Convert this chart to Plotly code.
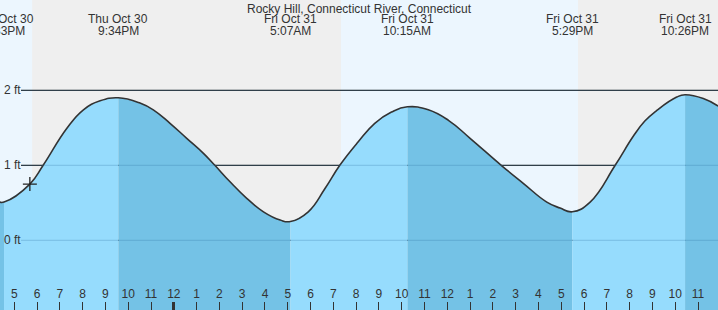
import plotly.graph_objects as go
from datetime import datetime, timedelta

# ---------------- data ----------------
title_text = "Rocky Hill, Connecticut River, Connecticut"

event_times = ["2025-10-30 16:33", "2025-10-30 21:34", "2025-10-31 05:07",
               "2025-10-31 10:15", "2025-10-31 17:29", "2025-10-31 22:26"]
event_days = ["Thu Oct 30", "Thu Oct 30", "Fri Oct 31",
              "Fri Oct 31", "Fri Oct 31", "Fri Oct 31"]
event_clock = ["4:33PM", "9:34PM", "5:07AM", "10:15AM", "5:29PM", "10:26PM"]

curve_times = [
    "2025-10-30 16:22", "2025-10-30 16:33", "2025-10-30 17:41", "2025-10-30 18:16",
    "2025-10-30 19:18", "2025-10-30 20:02", "2025-10-30 20:46", "2025-10-30 21:34",
    "2025-10-30 22:31", "2025-10-30 23:06", "2025-10-30 23:50", "2025-10-31 00:34",
    "2025-10-31 01:18", "2025-10-31 01:48", "2025-10-31 02:28", "2025-10-31 03:12",
    "2025-10-31 03:56", "2025-10-31 04:40", "2025-10-31 05:07", "2025-10-31 05:54",
    "2025-10-31 06:38", "2025-10-31 07:17", "2025-10-31 08:05", "2025-10-31 08:49",
    "2025-10-31 09:33", "2025-10-31 10:15", "2025-10-31 11:10", "2025-10-31 12:03",
    "2025-10-31 13:00", "2025-10-31 14:22", "2025-10-31 15:20", "2025-10-31 16:22",
    "2025-10-31 16:57", "2025-10-31 17:29", "2025-10-31 18:16", "2025-10-31 19:22",
    "2025-10-31 20:10", "2025-10-31 20:40", "2025-10-31 21:11", "2025-10-31 22:04",
    "2025-10-31 22:26", "2025-10-31 23:14", "2025-10-31 23:53",
]
curve_heights = [
    0.51, 0.51, 0.75, 1.00,
    1.49, 1.74, 1.86, 1.90,
    1.83, 1.74, 1.56, 1.36,
    1.16, 1.00, 0.78, 0.56,
    0.38, 0.27, 0.25, 0.38,
    0.69, 1.00, 1.31, 1.56,
    1.71, 1.78, 1.74, 1.60,
    1.36, 1.00, 0.76, 0.51,
    0.43, 0.38, 0.51, 1.00,
    1.39, 1.59, 1.73, 1.91,
    1.94, 1.89, 1.79,
]

now_time = ["2025-10-30 17:41"]
now_height = [0.75]

daylight_start = ["2025-10-30 16:22:23", "2025-10-31 07:20"]
daylight_end = ["2025-10-30 17:47", "2025-10-31 17:44"]

y_levels = [2, 1, 0]
y_level_labels = ["2 ft", "1 ft", "0 ft"]

hour_tick_times = [datetime(2025, 10, 30, 17) + timedelta(hours=i) for i in range(32)]
hour_tick_text = [str((t.hour % 12) or 12) for t in hour_tick_times]
midnight_ticks = ["2025-10-31 00:00"]

x_range = ["2025-10-30 16:22:23", "2025-10-31 23:52:40"]
y_range = [-0.929, 3.204]

# ---------------- styling ----------------
W, H = 718, 310
FONT = "Arial, Liberation Sans, sans-serif"
TXT = "#333333"
RISE = "#96dcfd"
FALL = "#74c2e6"
NIGHT = "#efefef"
DAY = "#ecf6fe"
SMOOTH = 1.3

fig = go.Figure()

# fill segments between tide extremes
ext_idx = [curve_times.index(t) for t in event_times]
bounds = sorted(set([0] + ext_idx + [len(curve_times) - 1]))
for a, b in zip(bounds[:-1], bounds[1:]):
    xs = curve_times[a:b + 1]
    ys = curve_heights[a:b + 1]
    color = RISE if curve_heights[b] > curve_heights[a] else FALL
    fig.add_trace(go.Scatter(x=[xs[0], xs[-1]], y=[y_range[0] - 1] * 2, mode="lines",
                             line=dict(width=0), hoverinfo="skip"))
    fig.add_trace(go.Scatter(x=xs, y=ys, mode="lines", fill="tonexty", fillcolor=color,
                             line=dict(width=0, shape="spline", smoothing=SMOOTH),
                             hoverinfo="skip"))

# tide curve
fig.add_trace(go.Scatter(x=curve_times, y=curve_heights, mode="lines",
                         line=dict(color="#333333", width=1.6, shape="spline",
                                   smoothing=SMOOTH)))
# current point marker
fig.add_trace(go.Scatter(x=now_time, y=now_height, mode="markers",
                         marker=dict(symbol="cross-thin", size=10,
                                     line=dict(color="#222222", width=1.3))))
# invisible trace for the midnight tick axis
fig.add_trace(go.Scatter(x=midnight_ticks, y=[y_range[0] - 1], xaxis="x2",
                         mode="markers", marker=dict(opacity=0), hoverinfo="skip"))

shapes = []
for s, e in zip(daylight_start, daylight_end):
    shapes.append(dict(type="rect", xref="x", yref="paper", x0=s, x1=e, y0=0, y1=1,
                       fillcolor=DAY, line=dict(width=0), layer="below"))
for lv in y_levels:
    shapes.append(dict(type="line", xref="paper", yref="y", x0=21 / W, x1=1, y0=lv, y1=lv,
                       line=dict(color="#333333", width=1.2), layer="below"))
    shapes.append(dict(type="line", xref="paper", yref="y", x0=21 / W, x1=1, y0=lv, y1=lv,
                       line=dict(color="rgba(40,110,160,0.22)", width=1.2), layer="above"))

annotations = []
for lv, lab in zip(y_levels, y_level_labels):
    annotations.append(dict(x=0, xref="paper", xshift=2, xanchor="left", y=lv, yref="y",
                            yanchor="middle", text=lab, showarrow=False,
                            font=dict(family=FONT, size=12, color=TXT)))
annotations.append(dict(x=0.5, xref="paper", y=1 - 8.5 / H, yref="paper", yanchor="middle",
                        text=title_text, showarrow=False,
                        font=dict(family=FONT, size=12, color=TXT)))
for t, d, c in zip(event_times, event_days, event_clock):
    annotations.append(dict(x=t, xref="x", y=1 - 19.5 / H, yref="paper", yanchor="middle",
                            xanchor="center", text=d, showarrow=False,
                            font=dict(family=FONT, size=12, color=TXT)))
    annotations.append(dict(x=t, xref="x", y=1 - 31.5 / H, yref="paper", yanchor="middle",
                            xanchor="center", text=c, showarrow=False,
                            font=dict(family=FONT, size=12, color=TXT)))

fig.update_layout(
    width=W, height=H,
    margin=dict(l=0, r=0, t=0, b=0, pad=0),
    paper_bgcolor=NIGHT, plot_bgcolor=NIGHT,
    showlegend=False,
    shapes=shapes, annotations=annotations,
    xaxis=dict(type="date", range=x_range, showgrid=False, zeroline=False, showline=False,
               tickmode="array", tickvals=hour_tick_times, ticktext=hour_tick_text,
               ticks="inside", ticklen=8, tickwidth=1, tickcolor="#333333",
               ticklabelposition="inside", ticklabelstandoff=1,
               tickfont=dict(family=FONT, size=12, color=TXT), fixedrange=True),
    xaxis2=dict(type="date", range=x_range, overlaying="x", anchor="y", side="bottom",
                showgrid=False, zeroline=False, showline=False, tickmode="array",
                tickvals=midnight_ticks, ticks="inside", ticklen=8, tickwidth=3,
                tickcolor="#333333", showticklabels=False),
    yaxis=dict(range=y_range, showgrid=False, zeroline=False, showline=False,
               showticklabels=False, ticks="", fixedrange=True),
    hovermode=False,
)

fig.write_html("out.html")
